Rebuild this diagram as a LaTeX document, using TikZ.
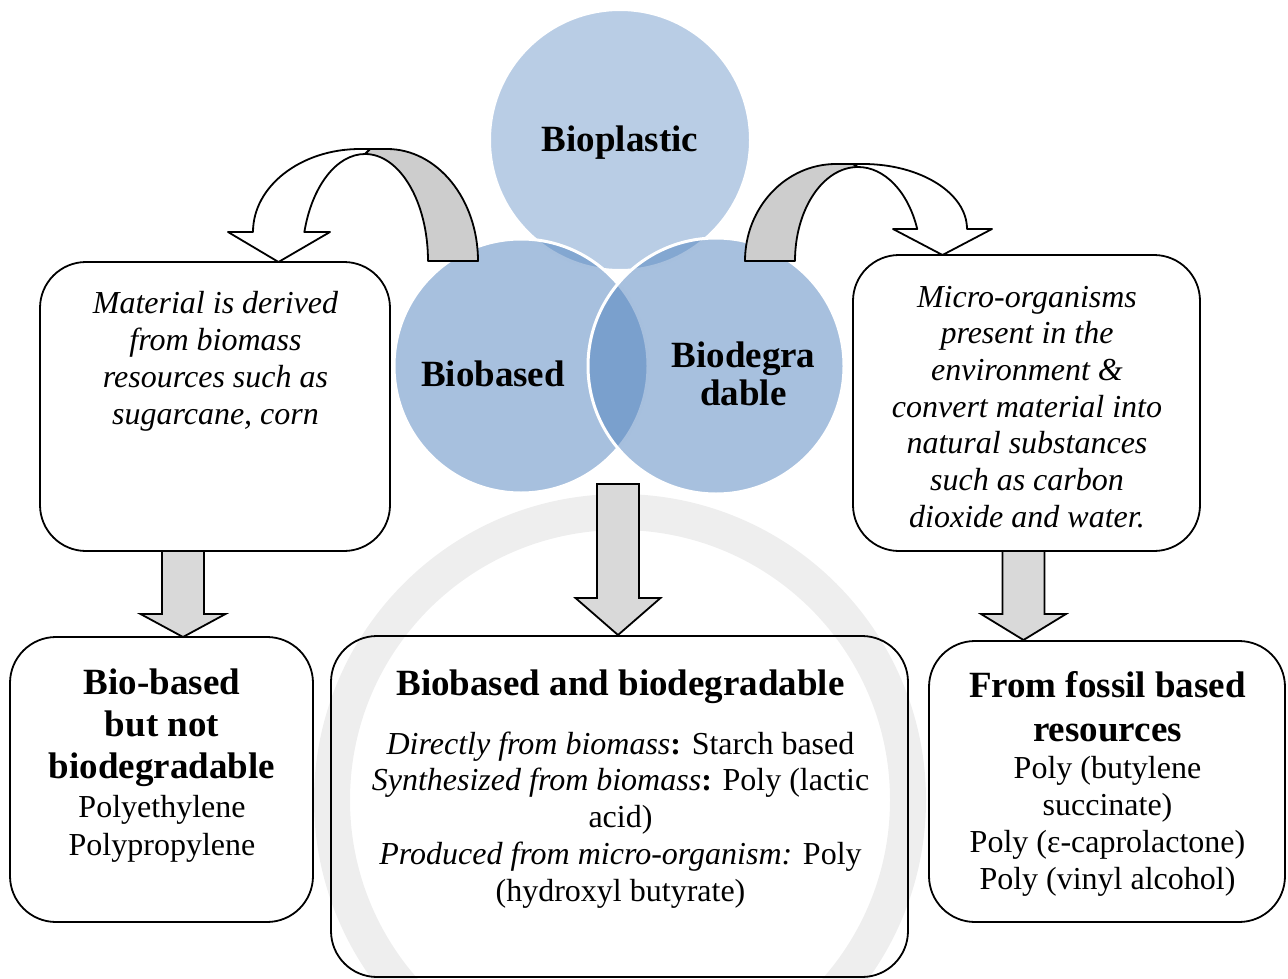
\documentclass[tikz,border=0pt]{standalone}
\usepackage{fontspec}
\setmainfont{Liberation Serif}
\definecolor{vennblue}{RGB}{79,129,189}
\definecolor{bandgray}{RGB}{205,205,205}
\definecolor{shaftgray}{RGB}{217,217,217}
\definecolor{markgray}{RGB}{238,238,238}
\tikzset{
  venn/.style={circle, inner sep=0pt, draw=white, line width=3pt, fill=vennblue},
  infobox/.style={draw=black, line width=1.8pt, rounded corners=46pt, inner sep=0pt},
  band/.style={draw=black, line width=1.8pt, line join=round},
  blockarrow/.style={draw=black, line width=1.8pt, fill=shaftgray, line join=miter},
  bodytext/.style={inner sep=0pt, font=\fontsize{32}{37}\selectfont},
  headtext/.style={inner sep=0pt, font=\fontsize{37}{42}\selectfont\bfseries},
}
% vertical block arrow: centre x, top of shaft, base of head, tip
\newcommand\blockdown[4]{%
  \draw[blockarrow] (#1-21,#2) -- (#1+21,#2) -- (#1+21,#3) -- (#1+42.5,#3)
    -- (#1,#4) -- (#1-42.5,#3) -- (#1-21,#3) -- cycle;}
\begin{document}
\begin{tikzpicture}[x=1pt, y=1pt, yscale=-1]
\useasboundingbox (0,0) rectangle (1288,979);

% faint emblem ring in the background
\draw[markgray, line width=36pt] (620,800) circle[radius=288];

% Venn circles
\node[venn, fill opacity=0.4, minimum size=261pt] (bioplastic) at (620,140) {};
\node[venn, fill opacity=0.5, minimum size=254pt] (biobased) at (521,366) {};
\node[venn, fill opacity=0.5, minimum size=256pt] (biodeg) at (716,366) {};

% rounded information boxes
\node[infobox, minimum width=350pt, minimum height=289pt] (ltbox) at (215,406.5) {};
\node[infobox, minimum width=347pt, minimum height=296pt] (rtbox) at (1026.5,403) {};
\node[infobox, minimum width=303pt, minimum height=285pt] (lbbox) at (161.5,779.5) {};
\node[infobox, minimum width=577pt, minimum height=341pt] (cbbox) at (619.5,806.5) {};
\node[infobox, minimum width=356pt, minimum height=281pt] (rbbox) at (1107,781.5) {};

% left curved arrow: back part, then front part with head
\draw[band, fill=bandgray] (478,261) arc[start angle=0, end angle=-90, x radius=91, y radius=112]
  -- (370,149) -- (365,154) arc[start angle=270, end angle=360, x radius=63, y radius=107] -- cycle;
\draw[band, fill=white] (253,232) arc[start angle=180, end angle=270, x radius=107, y radius=83]
  -- (370,149) -- (365,154) arc[start angle=270, end angle=195.7, x radius=63, y radius=107]
  -- (330,232) -- (278.5,262) -- (228,232) -- cycle;

% right curved arrow: back part, then front part with head
\draw[band, fill=bandgray] (745,261) arc[start angle=180, end angle=270, x radius=91, y radius=97]
  -- (853,164) -- (858,167) arc[start angle=270, end angle=180, x radius=63, y radius=94] -- cycle;
\draw[band, fill=white] (967,229) arc[start angle=0, end angle=-90, x radius=104, y radius=65]
  -- (853,164) -- (858,167) arc[start angle=270, end angle=340.1, x radius=63, y radius=94]
  -- (893,229) -- (942.5,255) -- (992,229) -- cycle;

% straight block arrows
\blockdown{183}{551}{614}{637}
\blockdown{618}{484}{598}{635}
\blockdown{1023.5}{551}{614}{640}

% circle labels
\node[headtext, anchor=base] (tbioplastic) at (620,152) {Bioplastic};
\node[headtext, anchor=base] (tbiobased) at (493,386) {Biobased};
\node[inner sep=0pt, font=\fontsize{37}{38}\selectfont\bfseries, anchor=base] (tbiodeg) at (743.5,367)
  {\begin{tabular}[t]{@{}c@{}}Biodegra\\dable\end{tabular}};

% upper box texts
\node[bodytext, font=\fontsize{32}{37}\selectfont\itshape, anchor=base] (ltxt) at (215.5,313)
  {\begin{tabular}[t]{@{}c@{}}Material is derived\\from biomass\\resources such as\\sugarcane, corn\end{tabular}};
\node[bodytext, font=\fontsize{32}{36.7}\selectfont\itshape, anchor=base] (rtxt) at (1027,307)
  {\begin{tabular}[t]{@{}c@{}}Micro-organisms\\present in the\\environment \&\\convert material into\\natural substances\\such as carbon\\dioxide and water.\end{tabular}};

% lower left box
\node[headtext, anchor=base] (lbhead) at (162,694)
  {\begin{tabular}[t]{@{}c@{}}Bio-based\\but not\\biodegradable\end{tabular}};
\node[bodytext, font=\fontsize{32}{38}\selectfont, anchor=base] (lbbody) at (162,817)
  {\begin{tabular}[t]{@{}c@{}}Polyethylene\\Polypropylene\end{tabular}};

% lower centre box
\node[headtext, anchor=base] (cbhead) at (620.5,695) {Biobased and biodegradable};
\node[bodytext, font=\fontsize{32}{36.8}\selectfont, anchor=base] (cbbody) at (620.5,754)
  {\begin{tabular}[t]{@{}c@{}}\textit{Directly from biomass}\textbf{:} Starch based\\
   \textit{Synthesized from biomass}\textbf{:} Poly (lactic\\
   acid)\\
   \textit{Produced from micro-organism:} Poly\\
   (hydroxyl butyrate)\end{tabular}};

% lower right box
\node[headtext, font=\fontsize{37}{44}\selectfont\bfseries, anchor=base] (rbhead) at (1107.5,697)
  {\begin{tabular}[t]{@{}c@{}}From fossil based\\resources\end{tabular}};
\node[bodytext, font=\fontsize{32}{37.3}\selectfont, anchor=base] (rbbody) at (1107.5,778)
  {\begin{tabular}[t]{@{}c@{}}Poly (butylene\\succinate)\\Poly (ε-caprolactone)\\Poly (vinyl alcohol)\end{tabular}};
\end{tikzpicture}
\end{document}
